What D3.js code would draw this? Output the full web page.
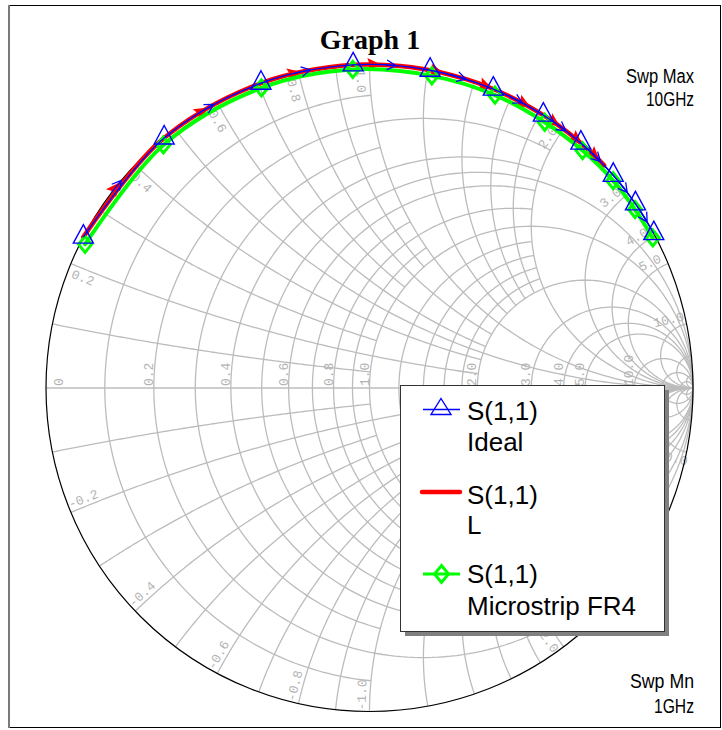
<!DOCTYPE html>
<html>
<head>
<meta charset="utf-8">
<script src="https://cdn.jsdelivr.net/npm/d3@7"></script>
<style>
  body { margin: 0; background: #fff; }
  svg { display: block; }
</style>
</head>
<body>
<svg id="chart" width="722" height="730"></svg>
<script>
/*--- Data ---*/
// sweep, 1 GHz .. 10 GHz
const freqGHz = [1, 1.9, 2.8, 3.7, 4.6, 5.5, 6.4, 7.3, 8.2, 9.1, 10];
// S(1,1): angle in degrees and magnitude
const idealAngle = [152.2, 129.4, 109.6, 92.9, 79.2, 67.5, 57.5, 49.2, 41.1, 34.7, 28.5];
const idealMag   = [1, 1, 1, 1, 1, 1, 1, 1, 1, 1, 1];
const lAngle     = [152.2, 130.5, 111.0, 95.0, 82.5, 72.5, 64.5, 57.5, 52.0, 47.5, 43.5];
const lMag       = [1, 1, 1, 1, 1, 1, 1, 1, 1, 1, 1];
const fr4Angle   = [153.2, 130.3, 109.8, 93.0, 78.7, 66.8, 56.6, 48.1, 40.4, 33.9, 27.9];
const fr4Mag     = [0.985, 0.985, 0.986, 0.986, 0.984, 0.985, 0.984, 0.986, 0.989, 0.989, 0.991];

const legendTitle = ["S(1,1)", "S(1,1)", "S(1,1)"];
const legendSub   = ["Ideal", "L", "Microstrip FR4"];

// grid circles: [value, limit of the other coordinate]
const rGrid = [[0.1,1],[0.2,2],[0.3,1],[0.4,2],[0.5,Infinity],[0.6,2],[0.7,1],[0.8,2],[0.9,1],
               [1,Infinity],[1.2,2],[1.4,2],[1.6,2],[1.8,2],[2,Infinity],[3,Infinity],[4,Infinity],
               [5,Infinity],[10,Infinity],[20,Infinity],[50,Infinity]];
const xGrid = [[0.1,1],[0.2,2],[0.3,1],[0.4,2],[0.5,Infinity],[0.6,2],[0.7,1],[0.8,2],[0.9,1],
               [1,Infinity],[1.2,2],[1.4,2],[1.6,2],[1.8,2],[2,Infinity],[3,Infinity],[4,Infinity],
               [5,Infinity],[10,Infinity],[20,Infinity],[50,Infinity]];
const rLabels = [0, 0.2, 0.4, 0.6, 0.8, 1, 2, 3, 4, 5, 10];
const xLabels = [0.2, 0.4, 0.6, 0.8, 1, 2, 3, 4, 5, 10];

/*--- Setup ---*/
const svg = d3.select("#chart");
const cx = 369.5, cy = 388, R = 323.5;
const gx = d3.scaleLinear().domain([-1, 1]).range([cx - R, cx + R]);
const gy = d3.scaleLinear().domain([-1, 1]).range([cy + R, cy - R]);
const rad = Math.PI / 180;

function gamma(r, x) {
    const d = (r + 1) * (r + 1) + x * x;
    return [(r * r + x * x - 1) / d, 2 * x / d];
}
const gridLine = d3.line().x(d => gx(d[0])).y(d => gy(d[1]));

function rCircle(r, xMax) {
    const c = r / (1 + r), rho = 1 / (1 + r);
    let t0 = 0;
    if (isFinite(xMax)) {
        const g = gamma(r, xMax);
        t0 = Math.atan2(g[1], g[0] - c);
    }
    return d3.range(181).map(i => {
        const t = t0 + (2 * Math.PI - 2 * t0) * i / 180;
        return [c + rho * Math.cos(t), rho * Math.sin(t)];
    });
}

function xArc(x, rMax) {
    const c1 = 1 / x, rho = Math.abs(1 / x);
    const g0 = gamma(0, x);
    const g1 = isFinite(rMax) ? gamma(rMax, x) : [1, 0];
    const t0 = Math.atan2(g0[1] - c1, g0[0] - 1);
    const t1 = Math.atan2(g1[1] - c1, g1[0] - 1);
    let dt = t1 - t0;
    while (dt > Math.PI) dt -= 2 * Math.PI;
    while (dt < -Math.PI) dt += 2 * Math.PI;
    return d3.range(121).map(i => {
        const t = t0 + dt * i / 120;
        return [1 + rho * Math.cos(t), c1 + rho * Math.sin(t)];
    });
}

/*--- Frame ---*/
svg.append("rect")
    .attr("x", 8.5).attr("y", 5.5).attr("width", 712).attr("height", 722)
    .attr("fill", "#fff").attr("stroke", "#000").attr("stroke-width", 1);
svg.append("line")
    .attr("x1", 9).attr("x2", 9).attr("y1", 5).attr("y2", 728)
    .attr("stroke", "#7a7a7a").attr("stroke-width", 2);

/*--- Grid ---*/
const grid = svg.append("g")
    .attr("fill", "none").attr("stroke", "#bcbcbc").attr("stroke-width", 1.3);

rGrid.forEach(d => {
    grid.append("path").attr("d", gridLine(rCircle(d[0], d[1])));
});
xGrid.forEach(d => {
    grid.append("path").attr("d", gridLine(xArc(d[0], d[1])));
    grid.append("path").attr("d", gridLine(xArc(-d[0], d[1])));
});
grid.append("path").attr("d", gridLine([[-1, 0], [1, 0]]));

// labels on the real axis
const labelG = svg.append("g")
    .attr("font-family", "Liberation Mono, DejaVu Sans Mono, monospace")
    .attr("font-size", 13).attr("fill", "#b4b4b4");

rLabels.forEach(r => {
    const px = r === 0 ? 63 : gx((r - 1) / (r + 1)) - 1;
    labelG.append("text")
        .attr("transform", `translate(${px},${cy - 2}) rotate(-90)`)
        .text(r === 0 ? "0" : r.toFixed(1));
});

// labels round the rim
xLabels.forEach(v => {
    [v, -v].forEach(x => {
        const g = gamma(0, x);
        let a = Math.atan2(g[1], g[0]);
        a += Math.sign(a) * 1.5 * rad;
        const rr = 307 / R;
        const px = gx(rr * Math.cos(a)), py = gy(rr * Math.sin(a));
        let rot = -a / rad;
        if (rot > 90 - 0.01) rot -= 180;
        if (rot < -90 - 0.01) rot += 180;
        labelG.append("text")
            .attr("transform", `translate(${px},${py}) rotate(${rot})`)
            .attr("text-anchor", "middle")
            .attr("dy", "0.35em")
            .text(x.toFixed(1));
    });
});

// outer rim
svg.append("circle")
    .attr("cx", gx(0)).attr("cy", gy(0)).attr("r", gx(1) - gx(0))
    .attr("fill", "none").attr("stroke", "#000").attr("stroke-width", 1.2);

/*--- Traces ---*/
function toPoints(angle, mag) {
    return angle.map((a, i) => [mag[i] * Math.cos(a * rad), mag[i] * Math.sin(a * rad)]);
}
const traceLine = d3.line()
    .x(d => gx(d[0])).y(d => gy(d[1]))
    .curve(d3.curveCatmullRom.alpha(0.5));

const idealPts = toPoints(idealAngle, idealMag);
const lPts = toPoints(lAngle, lMag);
const fr4Pts = toPoints(fr4Angle, fr4Mag);

// arrow positions halfway along each step of the sweep
function arrowSpots(angle, mag) {
    const spots = [];
    for (let i = 0; i < angle.length - 1; i++) {
        const a = (angle[i] + angle[i + 1]) / 2 * rad;
        const m = (mag[i] + mag[i + 1]) / 2;
        const p0 = [gx(mag[i] * Math.cos(angle[i] * rad)), gy(mag[i] * Math.sin(angle[i] * rad))];
        const p1 = [gx(mag[i + 1] * Math.cos(angle[i + 1] * rad)), gy(mag[i + 1] * Math.sin(angle[i + 1] * rad))];
        spots.push({
            x: gx(m * Math.cos(a)), y: gy(m * Math.sin(a)),
            rot: Math.atan2(p1[1] - p0[1], p1[0] - p0[0]) / rad
        });
    }
    return spots;
}

// L (red)
svg.append("path")
    .attr("d", traceLine(lPts))
    .attr("fill", "none").attr("stroke", "#ff0000").attr("stroke-width", 4.5)
    .attr("stroke-linecap", "round");
svg.selectAll("path.l-arrow")
    .data(arrowSpots(lAngle, lMag)).join("path")
    .attr("class", "l-arrow")
    .attr("transform", d => `translate(${d.x},${d.y}) rotate(${d.rot})`)
    .attr("d", "M3,0 L-8,-5 L-6,0 L-8,5 Z")
    .attr("fill", "#ff0000").attr("stroke", "#ff0000").attr("stroke-width", 1.5);

// Microstrip FR4 (green)
svg.append("path")
    .attr("d", traceLine(fr4Pts))
    .attr("fill", "none").attr("stroke", "#00ff00").attr("stroke-width", 4)
    .attr("stroke-linecap", "round");
svg.selectAll("path.fr4-mark")
    .data(fr4Pts).join("path")
    .attr("class", "fr4-mark")
    .attr("transform", d => `translate(${gx(d[0])},${gy(d[1])})`)
    .attr("d", "M0,-8 L6.5,0 L0,8 L-6.5,0 Z")
    .attr("fill", "none").attr("stroke", "#00ff00").attr("stroke-width", 3);

// Ideal (blue)
svg.append("path")
    .attr("d", traceLine(idealPts))
    .attr("fill", "none").attr("stroke", "#0000ff").attr("stroke-width", 1.4);
svg.selectAll("path.ideal-arrow")
    .data(arrowSpots(idealAngle, idealMag)).join("path")
    .attr("class", "ideal-arrow")
    .attr("transform", d => `translate(${d.x},${d.y}) rotate(${d.rot})`)
    .attr("d", "M-12,0 L4,0 M4,0 L-5,-5 M4,0 L-5,5")
    .attr("fill", "none").attr("stroke", "#0000ff").attr("stroke-width", 1.3);
svg.selectAll("path.ideal-mark")
    .data(idealPts).join("path")
    .attr("class", "ideal-mark")
    .attr("transform", d => `translate(${gx(d[0])},${gy(d[1])})`)
    .attr("d", "M0,-12.5 L10,6 L-10,6 Z")
    .attr("fill", "none").attr("stroke", "#0000ff").attr("stroke-width", 1.4);

/*--- Title and sweep notes ---*/
svg.append("text")
    .attr("x", 370).attr("y", 49)
    .attr("text-anchor", "middle")
    .attr("font-family", "Liberation Serif, Times New Roman, serif")
    .attr("font-weight", "bold").attr("font-size", 28)
    .text("Graph 1");

const notes = [
    { t: "Swp Max", y: 83, w: 68 },
    { t: "10GHz", y: 106, w: 48 },
    { t: "Swp Mn", y: 688, w: 64 },
    { t: "1GHz", y: 713, w: 40 }
];
svg.selectAll("text.note")
    .data(notes).join("text")
    .attr("class", "note")
    .attr("x", d => 694 - d.w).attr("y", d => d.y)
    .attr("textLength", d => d.w).attr("lengthAdjust", "spacingAndGlyphs")
    .attr("font-family", "Liberation Sans, Arial, sans-serif")
    .attr("font-size", 20)
    .text(d => d.t);

/*--- Legend ---*/
const lx = 400, ly = 385, lw = 264, lh = 246;
svg.append("rect")
    .attr("x", lx + 5).attr("y", ly + 5).attr("width", lw).attr("height", lh)
    .attr("fill", "#808080");
svg.append("rect")
    .attr("x", lx + 0.5).attr("y", ly + 0.5).attr("width", lw).attr("height", lh)
    .attr("fill", "#fff").attr("stroke", "#333").attr("stroke-width", 1);

const legendBase = [420, 504, 583];
const legendGap = [31, 30, 32];
const lg = svg.append("g")
    .attr("font-family", "Liberation Sans, Arial, sans-serif")
    .attr("font-size", 26).attr("fill", "#000");

legendTitle.forEach((t, i) => {
    lg.append("text").attr("x", 467).attr("y", legendBase[i]).text(t);
    lg.append("text").attr("x", 467).attr("y", legendBase[i] + legendGap[i]).text(legendSub[i]);
});

// symbols
const symY = [409.5, 492, 574];
svg.append("line")
    .attr("x1", 423).attr("x2", 460).attr("y1", symY[0]).attr("y2", symY[0])
    .attr("stroke", "#0000ff").attr("stroke-width", 1.3);
svg.append("path")
    .attr("transform", `translate(441,${symY[0]})`)
    .attr("d", "M0,-11 L10,5 L-10,5 Z")
    .attr("fill", "none").attr("stroke", "#0000ff").attr("stroke-width", 1.4);

svg.append("line")
    .attr("x1", 422).attr("x2", 460).attr("y1", symY[1]).attr("y2", symY[1])
    .attr("stroke", "#ff0000").attr("stroke-width", 4.5).attr("stroke-linecap", "round");

svg.append("line")
    .attr("x1", 423).attr("x2", 460).attr("y1", symY[2]).attr("y2", symY[2])
    .attr("stroke", "#00ff00").attr("stroke-width", 3);
svg.append("path")
    .attr("transform", `translate(441.5,${symY[2]})`)
    .attr("d", "M0,-8.5 L7,0 L0,8.5 L-7,0 Z")
    .attr("fill", "none").attr("stroke", "#00ff00").attr("stroke-width", 3);
</script>
</body>
</html>
